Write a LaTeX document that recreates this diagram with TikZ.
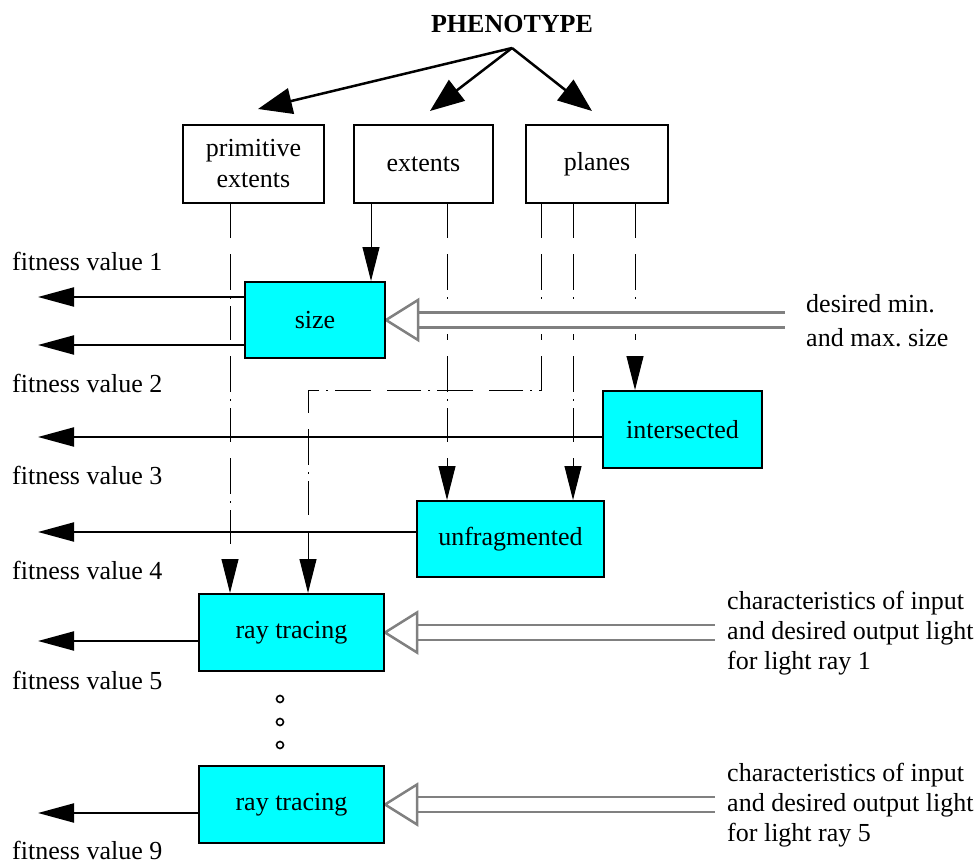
\documentclass[tikz,border=0pt]{standalone}
\usepackage{fontspec}
\setmainfont{Liberation Serif}
\usetikzlibrary{arrows.meta,calc}
\definecolor{boxcyan}{RGB}{0,255,255}
\definecolor{arrgray}{RGB}{128,128,128}
\frenchspacing
\newcommand\hollowarr[2]{%
  \fill[white] ($(#1.east)+(30,-14)$) rectangle ($(#2)+(0,14)$);
  \draw[dblline] ($(#1.east)+(32,-7.5)$) -- ($(#2)+(0,-7.5)$);
  \draw[dblline] ($(#1.east)+(32,7.5)$) -- ($(#2)+(0,7.5)$);
  \draw[dblline, fill=white, line join=miter] (#1.east) -- ($(#1.east)+(32,-20)$) -- ($(#1.east)+(32,20)$) -- cycle;}
\begin{document}
\begin{tikzpicture}[x=1pt,y=-1pt,
  txt/.style={font=\fontsize{26}{30}\selectfont, inner sep=0pt},
  wbox/.style 2 args={draw, line width=2pt, fill=white, minimum width=#1, minimum height=#2, inner sep=0pt, align=center, font=\fontsize{26}{31}\selectfont},
  cbox/.style 2 args={wbox={#1}{#2}, fill=boxcyan},
  toparr/.style={line width=2.5pt, -{Triangle[length=34pt,width=26pt]}},
  fitarr/.style={line width=2pt, -{Triangle[length=36pt,width=19pt]}},
  vline/.style={line width=1pt, dash pattern=on 34pt off 16pt on 36pt off 7pt on 2pt off 7pt, -{Triangle[length=34pt,width=17pt]}},
  sline/.style={line width=1pt, -{Triangle[length=34pt,width=17pt]}},
  dblline/.style={draw=arrgray, line width=2.5pt},
  dotc/.style={circle, draw, line width=1.6pt, inner sep=0pt, minimum size=7pt}]
\useasboundingbox (0,0) rectangle (980,864);

% title
\node[txt, font=\fontsize{26}{30}\selectfont\bfseries] (pheno) at (512,24) {PHENOTYPE};
\coordinate (src) at (512,48);

% top boxes
\node[wbox={141}{78}] (prim) at (253.5,164) {primitive\\extents};
\node[wbox={139}{78}] (ext) at (423.5,164) {extents};
\node[wbox={142}{78}] (plan) at (597,164) {planes};

% cyan boxes
\node[cbox={140}{76}] (size) at (315,320) {size};
\node[cbox={159}{77}] (inter) at (682.5,429.5) {intersected};
\node[cbox={187}{76}] (unfrag) at (510.5,539) {unfragmented};
\node[cbox={185}{77}] (ray1) at (291.5,632.5) {ray tracing};
\node[cbox={185}{77}] (ray2) at (291.5,804.5) {ray tracing};

% top arrows
\draw[toparr] (src) -- ($(prim.north)+(4.5,-15)$);
\draw[toparr] (src) -- ($(ext.north)+(6.5,-13)$);
\draw[toparr] (src) -- ($(plan.north)+(-5,-13)$);

% vertical connectors
\coordinate (p1) at ($(prim.south)+(-23.5,0)$);
\coordinate (e1) at ($(ext.south)+(-52.5,0)$);
\coordinate (e2) at ($(ext.south)+(23.5,0)$);
\coordinate (q1) at ($(plan.south)+(-56,0)$);
\coordinate (q2) at ($(plan.south)+(-24,0)$);
\coordinate (q3) at ($(plan.south)+(38,0)$);
\coordinate (lb) at (308,390);
\draw[vline] (p1) -- (p1 |- ray1.north);
\draw[sline] (e1) -- (e1 |- size.north);
\draw[vline] (e2) -- (e2 |- unfrag.north);
\draw[vline] (q1) |- (lb) -- (lb |- ray1.north);
\draw[vline] (q2) -- (q2 |- unfrag.north);
\draw[vline] (q3) -- (q3 |- inter.north);

% hollow double arrows
\coordinate (d1) at (785,320);
\coordinate (d2) at (715,632.5);
\coordinate (d3) at (715,804.5);
\hollowarr{size}{d1}
\hollowarr{ray1}{d2}
\hollowarr{ray2}{d3}

% redraw cyan boxes on top
\node[cbox={140}{76}] at (size) {size};
\node[cbox={185}{77}] at (ray1) {ray tracing};
\node[cbox={185}{77}] at (ray2) {ray tracing};

% fitness arrows
\coordinate (f1) at (38,297);
\coordinate (f2) at (38,345);
\coordinate (f3) at (38,437);
\coordinate (f4) at (38,532);
\coordinate (f5) at (38,641);
\coordinate (f9) at (38,813);
\draw[fitarr] (size.west |- f1) -- (f1);
\draw[fitarr] (size.west |- f2) -- (f2);
\draw[fitarr] (inter.west |- f3) -- (f3);
\draw[fitarr] (unfrag.west |- f4) -- (f4);
\draw[fitarr] (ray1.west |- f5) -- (f5);
\draw[fitarr] (ray2.west |- f9) -- (f9);

% fitness labels
\node[txt, anchor=base west] (l1) at (12,270) {fitness value 1};
\node[txt, anchor=base west] (l2) at (12,392) {fitness value 2};
\node[txt, anchor=base west] (l3) at (12,484) {fitness value 3};
\node[txt, anchor=base west] (l4) at (12,579) {fitness value 4};
\node[txt, anchor=base west] (l5) at (12,689) {fitness value 5};
\node[txt, anchor=base west] (l9) at (12,859) {fitness value 9};

% right texts
\node[txt, anchor=west, align=left, font=\fontsize{26}{34}\selectfont] (r1) at (806,321) {desired min.\\and max. size};
\node[txt, anchor=west, align=left] (r2) at (727,633) {characteristics of input\\and desired output light\\for light ray 1};
\node[txt, anchor=west, align=left] (r3) at (727,805) {characteristics of input\\and desired output light\\for light ray 5};

% dots
\node[dotc] (dot1) at (280,699) {};
\node[dotc] (dot2) at (280,722) {};
\node[dotc] (dot3) at (280,745) {};
\end{tikzpicture}
\end{document}
